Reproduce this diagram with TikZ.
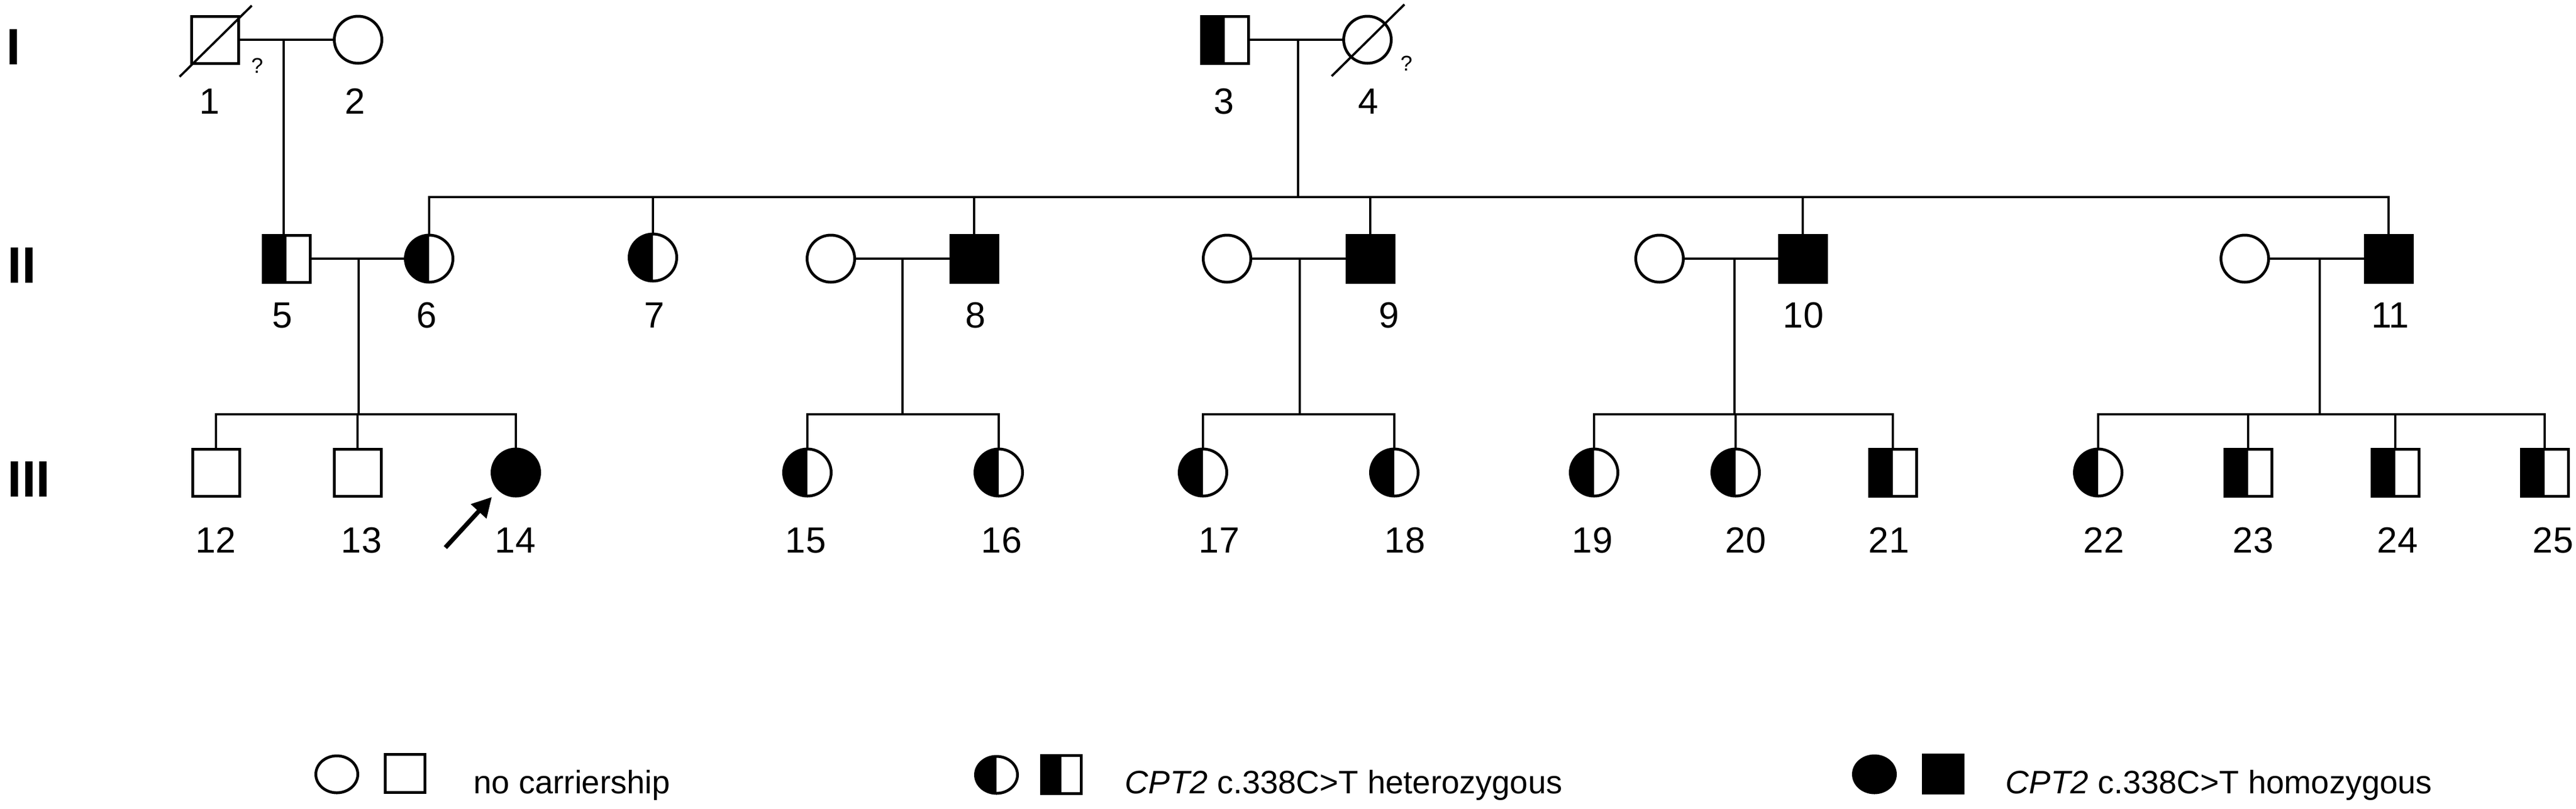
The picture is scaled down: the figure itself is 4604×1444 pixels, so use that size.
\documentclass[tikz,border=0pt]{standalone}
\usepackage{fontspec}
\setmainfont{Liberation Sans}
\usepackage{tikz}
\usetikzlibrary{arrows.meta,calc,positioning,shapes.geometric}
\tikzstyle{person}=[
  draw=black,
  inner sep=0pt,
  line width=.5mm,
  outer sep=0pt,
]
\tikzstyle{male}=[
  person,
  rectangle,
  minimum height=8.4mm,
  minimum width=8.4mm,
]
\tikzstyle{female}=[
  person,
  ellipse,
  minimum height=8.4mm,
  minimum width=8.5mm,
]
\tikzstyle{het}=[
  path picture={\fill [black] (path picture bounding box.south west)
    rectangle (path picture bounding box.north);},
]
\tikzstyle{hom}=[
  fill=black,
]
\tikzstyle{legendm}=[
  person,
  rectangle,
  minimum height=6.8mm,
  minimum width=7.1mm,
]
\tikzstyle{legendf}=[
  person,
  ellipse,
  minimum height=6.6mm,
  minimum width=7.5mm,
]
\tikzstyle{line}=[
  draw=black,
  line width=.45mm,
]
\tikzstyle{deceased}=[
  draw=black,
  line width=.4mm,
]
\tikzstyle{number}=[
  anchor=base,
  font={\fontsize{18.5}{20}\selectfont},
  inner sep=0pt,
]
\tikzstyle{unknown}=[
  anchor=base,
  font={\fontsize{10.8}{12}\selectfont},
  inner sep=0pt,
]
\tikzstyle{generation}=[
  anchor=base west,
  font={\fontsize{26}{28}\selectfont\bfseries},
  inner sep=0pt,
]
\tikzstyle{legendtext}=[
  anchor=base west,
  font={\fontsize{16.5}{18}\selectfont},
  inner sep=0pt,
]
\tikzstyle{proband}=[
  draw=black,
  line width=.8mm,
  -{Triangle[length=3.5mm,width=3.6mm]},
]
\tikzset{
  x=.1mm,
  y=-.1mm,
}
\begin{document}
\begin{tikzpicture}
  \useasboundingbox (0,0) rectangle (4604,1444);
  %% generation labels
  \node (gI) [generation] at (11,115) {I};
  \node (gII) [generation] at (13,505) {II};
  \node (gIII) [generation] at (13,887) {III};
  %% generation I
  \node (p1) [male] at (384,71) {};
  \node (p2) [female] at (640,71) {};
  \node (p3) [male, het] at (2189,71) {};
  \node (p4) [female] at (2444,71) {};
  \draw [deceased] ($(p1)+(-63,66)$) -- ($(p1)+(66,-61)$);
  \draw [deceased] ($(p4)+(-64,65)$) -- ($(p4)+(66,-63)$);
  \node (q1) [unknown] at (460,130) {?};
  \node (q4) [unknown] at (2514,126) {?};
  \node (n1) [number] at (375,203) {1};
  \node (n2) [number] at (635,203) {2};
  \node (n3) [number] at (2188,203) {3};
  \node (n4) [number] at (2446,203) {4};
  %% generation II
  \node (p5) [male, het] at (512,462) {};
  \node (p6) [female, het] at (767,462) {};
  \node (p7) [female, het] at (1167,460) {};
  \node (sp8) [female] at (1485,462) {};
  \node (p8) [male, hom] at (1741,462) {};
  \node (sp9) [female] at (2193,462) {};
  \node (p9) [male, hom] at (2449,462) {};
  \node (sp10) [female] at (2966,462) {};
  \node (p10) [male, hom] at (3222,462) {};
  \node (sp11) [female] at (4012,462) {};
  \node (p11) [male, hom] at (4269,462) {};
  \node (n5) [number] at (505,585) {5};
  \node (n6) [number] at (763,585) {6};
  \node (n7) [number] at (1170,585) {7};
  \node (n8) [number] at (1744,585) {8};
  \node (n9) [number] at (2483,585) {9};
  \node (n10) [number] at (3223,585) {10};
  \node (n11) [number] at (4272,585) {11};
  %% generation III
  \node (p12) [male] at (386,844) {};
  \node (p13) [male] at (639,844) {};
  \node (p14) [female, hom] at (922,844) {};
  \node (p15) [female, het] at (1443,844) {};
  \node (p16) [female, het] at (1785,844) {};
  \node (p17) [female, het] at (2150,844) {};
  \node (p18) [female, het] at (2492,844) {};
  \node (p19) [female, het] at (2849,844) {};
  \node (p20) [female, het] at (3102,844) {};
  \node (p21) [male, het] at (3383,844) {};
  \node (p22) [female, het] at (3750,844) {};
  \node (p23) [male, het] at (4018,844) {};
  \node (p24) [male, het] at (4281,844) {};
  \node (p25) [male, het] at (4548,844) {};
  \node (n12) [number] at (386,987) {12};
  \node (n13) [number] at (646,987) {13};
  \node (n14) [number] at (921,987) {14};
  \node (n15) [number] at (1440,987) {15};
  \node (n16) [number] at (1790,987) {16};
  \node (n17) [number] at (2179,987) {17};
  \node (n18) [number] at (2511,987) {18};
  \node (n19) [number] at (2846,987) {19};
  \node (n20) [number] at (3120,987) {20};
  \node (n21) [number] at (3376,987) {21};
  \node (n22) [number] at (3760,987) {22};
  \node (n23) [number] at (4027,987) {23};
  \node (n24) [number] at (4285,987) {24};
  \node (n25) [number] at (4563,987) {25};
  %% lines of descent
  \coordinate (m12) at (507,71);
  \coordinate (m34) at (2320,71);
  \coordinate (s2) at (2320,352);
  \draw [line] (p1) -- (p2);
  \draw [line] (m12) -- (m12 |- p5.north);
  \draw [line] (p3) -- (p4);
  \draw [line] (m34) -- (s2);
  \draw [line] (p6.north) |- (s2) -| (p11.north);
  \draw [line] (p7.north) -- (p7 |- s2);
  \draw [line] (p8.north) -- (p8 |- s2);
  \draw [line] (p9.north) -- (p9 |- s2);
  \draw [line] (p10.north) -- (p10 |- s2);
  %%
  \coordinate (m56) at (641,462);
  \coordinate (s56) at (641,740);
  \draw [line] (p5) -- (p6);
  \draw [line] (m56) -- (s56);
  \draw [line] (p12.north) |- (s56) -| (p14.north);
  \draw [line] (p13.north) -- (p13 |- s56);
  %%
  \coordinate (m8) at (1613,462);
  \coordinate (s8) at (1613,740);
  \draw [line] (sp8) -- (p8);
  \draw [line] (m8) -- (s8);
  \draw [line] (p15.north) |- (s8) -| (p16.north);
  %%
  \coordinate (m9) at (2323,462);
  \coordinate (s9) at (2323,740);
  \draw [line] (sp9) -- (p9);
  \draw [line] (m9) -- (s9);
  \draw [line] (p17.north) |- (s9) -| (p18.north);
  %%
  \coordinate (m10) at (3100,462);
  \coordinate (s10) at (3100,740);
  \draw [line] (sp10) -- (p10);
  \draw [line] (m10) -- (s10);
  \draw [line] (p19.north) |- (s10) -| (p21.north);
  \draw [line] (p20.north) -- (p20 |- s10);
  %%
  \coordinate (m11) at (4146,462);
  \coordinate (s11) at (4146,740);
  \draw [line] (sp11) -- (p11);
  \draw [line] (m11) -- (s11);
  \draw [line] (p22.north) |- (s11) -| (p25.north);
  \draw [line] (p23.north) -- (p23 |- s11);
  \draw [line] (p24.north) -- (p24 |- s11);
  %% proband
  \coordinate (pa) at (796,978);
  \draw [proband, shorten >=1.9mm] (pa) -- (p14.south west);
  %% legend
  \node (lf0) [legendf] at (602,1383) {};
  \node (lm0) [legendm] at (724,1381) {};
  \node (lt0) [legendtext] at (846,1417) {no carriership};
  \node (lf1) [legendf, het] at (1781,1384) {};
  \node (lm1) [legendm, het] at (1897,1383) {};
  \node (lt1) [legendtext] at (2010,1417) {\textit{CPT2} c.338C>T heterozygous};
  \node (lf2) [legendf, hom] at (3350,1383) {};
  \node (lm2) [legendm, hom] at (3473,1382) {};
  \node (lt2) [legendtext] at (3584,1417) {\textit{CPT2} c.338C>T homozygous};
\end{tikzpicture}
\end{document}
